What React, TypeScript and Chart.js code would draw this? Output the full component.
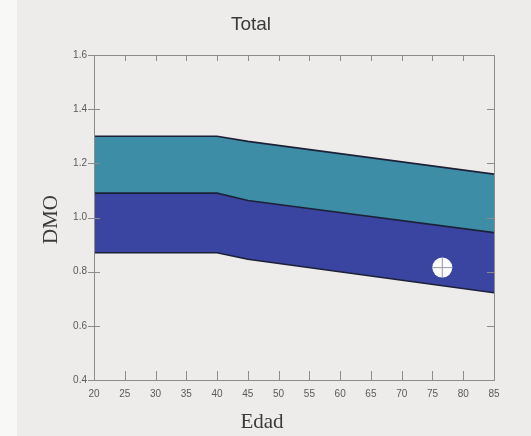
import React, { useEffect, useRef } from "react";
import { Chart, registerables } from "chart.js";

Chart.register(...registerables);

const ages = [20, 40, 45, 85];
const lowerLimit = [0.87, 0.87, 0.846, 0.722];
const middleLimit = [1.09, 1.09, 1.063, 0.944];
const upperLimit = [1.30, 1.30, 1.281, 1.16];
const patientPoint = [{ x: 76.6, y: 0.815 }];
const xTicks = [20, 25, 30, 35, 40, 45, 50, 55, 60, 65, 70, 75, 80, 85];
const yTicks = [0.4, 0.6, 0.8, 1.0, 1.2, 1.4, 1.6];

const TITLE = "Total";
const X_TITLE = "Edad";
const Y_TITLE = "DMO";

const W = 531;
const H = 436;

const decorPlugin = {
  id: "decor",
  beforeDraw(chart: any) {
    const ctx = chart.ctx;
    ctx.save();
    ctx.fillStyle = "#edecea";
    ctx.fillRect(0, 0, chart.width, chart.height);
    ctx.fillStyle = "#f8f8f7";
    ctx.fillRect(0, 0, 17, chart.height);
    ctx.restore();
  },
  afterDatasetsDraw(chart: any) {
    const ctx = chart.ctx;
    const { left, right, top, bottom } = chart.chartArea;
    const xs = chart.scales.x;
    const ys = chart.scales.y;
    ctx.save();
    ctx.strokeStyle = "#8c8c8c";
    ctx.lineWidth = 1;
    ctx.strokeRect(Math.round(left) + 0.5, Math.round(top) + 0.5, Math.round(right - left), Math.round(bottom - top));
    ctx.beginPath();
    for (const v of xTicks) {
      const px = Math.round(xs.getPixelForValue(v)) + 0.5;
      if (v !== xTicks[0] && v !== xTicks[xTicks.length - 1]) {
        ctx.moveTo(px, bottom);
        ctx.lineTo(px, bottom - 9);
        ctx.moveTo(px, top);
        ctx.lineTo(px, top + 6);
      } else if (v === xTicks[xTicks.length - 1]) {
        ctx.moveTo(px, bottom);
        ctx.lineTo(px, bottom - 9);
      }
    }
    for (const v of yTicks) {
      const py = Math.round(ys.getPixelForValue(v)) + 0.5;
      ctx.moveTo(left - 6, py);
      ctx.lineTo(left + 6, py);
      ctx.moveTo(right, py);
      ctx.lineTo(right - 7, py);
    }
    ctx.stroke();
    ctx.restore();
  },
  afterDraw(chart: any) {
    const ctx = chart.ctx;
    const { top, bottom, left } = chart.chartArea;
    ctx.save();
    ctx.fillStyle = "#3a3a3a";
    ctx.textAlign = "center";
    ctx.textBaseline = "middle";
    ctx.font = "19px 'Liberation Sans', Arial, sans-serif";
    ctx.fillText(TITLE, 251, top - 30);
    ctx.font = "21px 'Liberation Serif', 'Times New Roman', serif";
    ctx.fillText(X_TITLE, 262, bottom + 42);
    ctx.translate(left - 43, (top + bottom) / 2 + 2);
    ctx.rotate(-Math.PI / 2);
    ctx.fillText(Y_TITLE, 0, 0);
    ctx.restore();
  },
};

export default function App() {
  const ref = useRef<HTMLCanvasElement | null>(null);

  useEffect(() => {
    if (!ref.current) return;
    const toPts = (arr: number[]) => ages.map((a, i) => ({ x: a, y: arr[i] }));
    const lineColor = "#1c2138";
    const chart = new Chart(ref.current, {
      type: "line",
      data: {
        datasets: [
          {
            label: "lower",
            data: toPts(lowerLimit),
            borderColor: lineColor,
            borderWidth: 1.6,
            pointRadius: 0,
            fill: false,
          },
          {
            label: "middle",
            data: toPts(middleLimit),
            borderColor: lineColor,
            borderWidth: 1.6,
            backgroundColor: "#3a45a2",
            pointRadius: 0,
            fill: "-1",
          },
          {
            label: "upper",
            data: toPts(upperLimit),
            borderColor: lineColor,
            borderWidth: 1.6,
            backgroundColor: "#3d8da7",
            pointRadius: 0,
            fill: "-1",
          },
          {
            type: "scatter",
            label: "patient",
            data: patientPoint,
            order: -1,
            pointRadius: 10,
            pointBackgroundColor: "#fbfbfb",
            pointBorderColor: "#f4f4f4",
            pointBorderWidth: 0,
          } as any,
          {
            type: "scatter",
            label: "patient-cross",
            data: patientPoint,
            order: -2,
            pointStyle: "cross",
            pointRadius: 10,
            pointBorderColor: "#9a9aa8",
            pointBorderWidth: 1,
          } as any,
        ],
      },
      options: {
        animation: false,
        responsive: false,
        maintainAspectRatio: false,
        layout: { padding: { top: 55, right: 37, left: 0, bottom: 0 } },
        plugins: {
          legend: { display: false },
          title: { display: false },
          tooltip: { enabled: false },
        },
        scales: {
          x: {
            type: "linear",
            min: 20,
            max: 85,
            afterBuildTicks: (scale: any) => {
              scale.ticks = xTicks.map((v) => ({ value: v }));
            },
            afterFit: (scale: any) => {
              scale.height = 56;
            },
            grid: { display: false, drawTicks: false },
            border: { display: false },
            ticks: {
              color: "#5a5a5a",
              font: { size: 10, family: "'Liberation Sans', Arial, sans-serif" },
              padding: 8,
              maxRotation: 0,
              autoSkip: false,
            },
          },
          y: {
            type: "linear",
            min: 0.4,
            max: 1.6,
            afterBuildTicks: (scale: any) => {
              scale.ticks = yTicks.map((v) => ({ value: v }));
            },
            afterFit: (scale: any) => {
              scale.width = 94;
            },
            grid: { display: false, drawTicks: false },
            border: { display: false },
            ticks: {
              color: "#5a5a5a",
              font: { size: 10, family: "'Liberation Sans', Arial, sans-serif" },
              padding: 7,
              callback: (v: any) => Number(v).toFixed(1),
            },
          },
        },
      },
      plugins: [decorPlugin],
    } as any);
    return () => chart.destroy();
  }, []);

  return (
    <div style={{ position: "fixed", left: 0, top: 0, width: W, height: H }}>
      <canvas ref={ref} width={W} height={H} style={{ width: W, height: H, display: "block" }} />
    </div>
  );
}
